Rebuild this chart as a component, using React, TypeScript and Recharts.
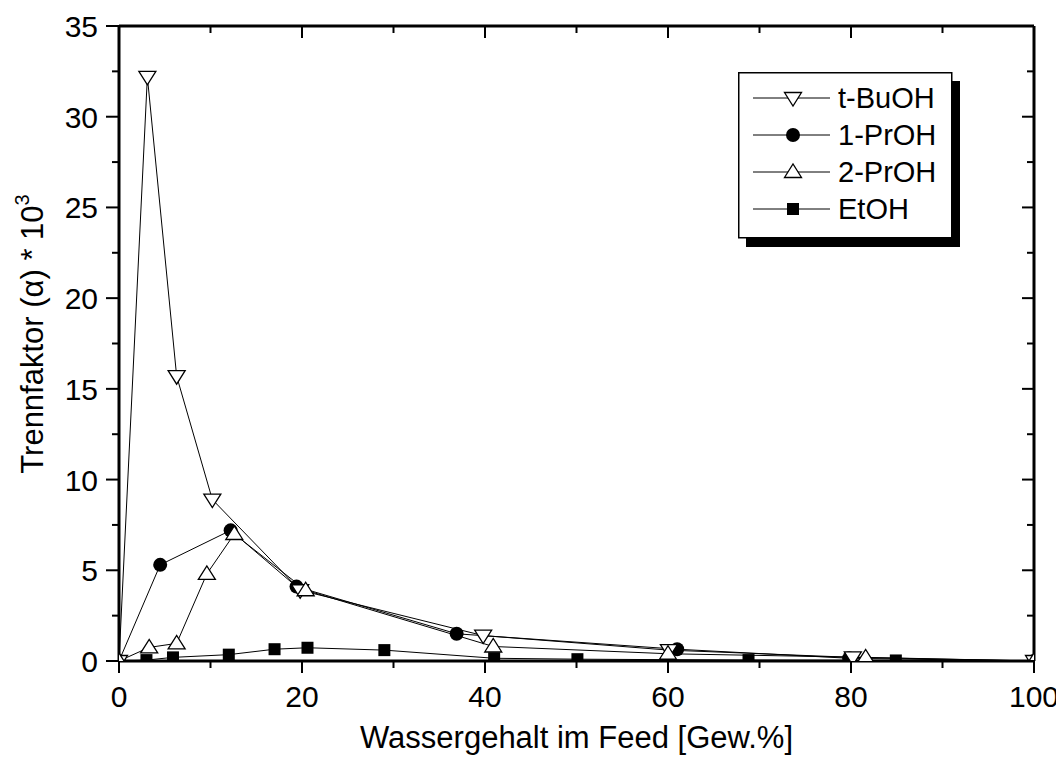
import React from 'react'
import { LineChart, Line, XAxis, YAxis } from 'recharts'

// Wassergehalt [Gew.%] und Trennfaktor * 10^3 je Alkohol
const tBuX = [0, 3.1, 6.3, 10.2, 19.8, 39.8, 60.1, 80.2, 100]
const tBuY = [0, 32.2, 15.7, 8.9, 3.9, 1.4, 0.6, 0.2, 0]
const prop1X = [0, 4.5, 12.2, 19.4, 36.9, 61, 79.8, 100]
const prop1Y = [0, 5.3, 7.2, 4.1, 1.5, 0.65, 0.15, 0]
const prop2X = [0, 3.3, 6.3, 9.6, 12.6, 20.4, 40.9, 60, 81.6, 100]
const prop2Y = [0, 0.75, 0.97, 4.8, 7.0, 3.9, 0.8, 0.4, 0.2, 0]
const etX = [0, 3.0, 5.9, 12, 17, 20.6, 29, 41, 50.1, 68.8, 84.9, 100]
const etY = [0, 0.05, 0.2, 0.35, 0.65, 0.73, 0.6, 0.15, 0.1, 0.05, 0.03, 0]

const xTicks = [0, 10, 20, 30, 40, 50, 60, 70, 80, 90, 100]
const yTicks = [0, 2.5, 5, 7.5, 10, 12.5, 15, 17.5, 20, 22.5, 25, 27.5, 30, 32.5, 35]

const seriesNames = ['t-BuOH', '1-PrOH', '2-PrOH', 'EtOH']

const toPoints = (xs: number[], ys: number[]) => xs.map((x, i) => ({ x, y: ys[i] }))

const FONT = '"Liberation Sans", Arial, sans-serif'
const W = 1056
const H = 750
// plot area: left 111, top 18, right 1026, bottom 653
const PLOT = { left: 111, top: 18, right: 1026, bottom: 653 }
const BOTTOM_H = 60
const LEFT_W = 80
const M = {
  top: PLOT.top - 1,
  right: W - PLOT.right - 1,
  bottom: H - PLOT.bottom - BOTTOM_H,
  left: PLOT.left - LEFT_W,
}

type MarkerKind = 'down' | 'circle' | 'up' | 'square'

const Marker = ({ kind, cx, cy }: { kind: MarkerKind; cx: number; cy: number }) => {
  if (kind === 'circle') return <circle cx={cx} cy={cy} r={7} fill="#000" />
  if (kind === 'square') return <rect x={cx - 6} y={cy - 6} width={12} height={12} fill="#000" />
  if (kind === 'down')
    return (
      <polygon
        points={`${cx - 8.5},${cy - 5.5} ${cx + 8.5},${cy - 5.5} ${cx},${cy + 8}`}
        fill="#fff"
        stroke="#000"
        strokeWidth={1.3}
      />
    )
  return (
    <polygon
      points={`${cx - 8.5},${cy + 5.5} ${cx + 8.5},${cy + 5.5} ${cx},${cy - 8}`}
      fill="#fff"
      stroke="#000"
      strokeWidth={1.3}
    />
  )
}

const dotFor = (kind: MarkerKind) => (props: any) => (
  <Marker key={`${kind}-${props.index}`} kind={kind} cx={props.cx} cy={props.cy} />
)

const BottomTick = ({ x = 0, y = 0, payload }: any) => {
  const v = payload?.value
  const major = v % 20 === 0
  return (
    <g>
      <line x1={x} x2={x} y1={y} y2={y + (major ? 12 : 7)} stroke="#000" strokeWidth={2} />
      {major && (
        <text x={x} y={y + 46} textAnchor="middle" fontSize={30} fontFamily={FONT} fill="#000">
          {v}
        </text>
      )}
    </g>
  )
}

const TopTick = ({ x = 0, y = 0, payload }: any) => {
  const major = payload?.value % 20 === 0
  return <line x1={x} x2={x} y1={y} y2={y + (major ? 12 : 7)} stroke="#000" strokeWidth={2} />
}

const LeftTick = ({ x = 0, y = 0, payload }: any) => {
  const v = payload?.value
  const major = v % 5 === 0
  return (
    <g>
      <line x1={x - (major ? 13 : 7)} x2={x} y1={y} y2={y} stroke="#000" strokeWidth={2} />
      {major && (
        <text x={x - 21} y={y + 11} textAnchor="end" fontSize={30} fontFamily={FONT} fill="#000">
          {v}
        </text>
      )}
    </g>
  )
}

const RightTick = ({ x = 0, y = 0, payload }: any) => {
  const major = payload?.value % 5 === 0
  return <line x1={x - (major ? 12 : 7)} x2={x} y1={y} y2={y} stroke="#000" strokeWidth={2} />
}

const XTitle = () => (
  <text
    x={(PLOT.left + PLOT.right) / 2}
    y={740}
    textAnchor="middle"
    fontSize={31}
    fontFamily={FONT}
    fill="#000"
  >
    Wassergehalt im Feed [Gew.%]
  </text>
)

const YTitle = () => {
  const cx = 35
  const cy = 326
  return (
    <text
      x={cx}
      y={cy}
      transform={`rotate(-90, ${cx}, ${cy})`}
      textAnchor="middle"
      fontSize={31}
      fontFamily={FONT}
      fill="#000"
    >
      Trennfaktor (α) * 10
      <tspan fontSize={20} dy={-14}>3</tspan>
    </text>
  )
}

const legendKinds: MarkerKind[] = ['down', 'circle', 'up', 'square']

const LegendBox = () => (
  <svg width={232} height={184} style={{ position: 'absolute', left: 730, top: 64 }}>
    <rect x={8} y={9} width={214} height={166} fill="#000" />
    <rect x={0.75} y={0.75} width={213} height={165} fill="#fff" stroke="#000" strokeWidth={1.5} />
    {seriesNames.map((name, i) => {
      const cy = 26 + i * 37
      return (
        <g key={name}>
          <line x1={15} x2={92} y1={cy} y2={cy} stroke="#000" strokeWidth={1} />
          <Marker kind={legendKinds[i]} cx={55} cy={cy} />
          <text x={100} y={cy + 10} fontSize={29} fontFamily={FONT} fill="#000">
            {name}
          </text>
        </g>
      )
    })}
  </svg>
)

export default function App() {
  const axisLine = { stroke: '#000', strokeWidth: 3 }
  return (
    <div style={{ position: 'relative', width: W, height: H, fontFamily: FONT }}>
      <LineChart width={W} height={H} margin={M}>
        <XAxis
          dataKey="x"
          type="number"
          domain={[0, 100]}
          ticks={xTicks}
          interval={0}
          height={BOTTOM_H}
          tickSize={0}
          tickMargin={0}
          tickLine={false}
          axisLine={axisLine}
          tick={<BottomTick />}
          allowDataOverflow
          label={<XTitle />}
        />
        <XAxis
          xAxisId="top"
          orientation="top"
          dataKey="x"
          type="number"
          domain={[0, 100]}
          ticks={xTicks}
          interval={0}
          height={1}
          tickSize={0}
          tickMargin={0}
          tickLine={false}
          axisLine={axisLine}
          tick={<TopTick />}
          allowDataOverflow
        />
        <YAxis
          type="number"
          domain={[0, 35]}
          ticks={yTicks}
          interval={0}
          width={LEFT_W}
          tickSize={0}
          tickMargin={0}
          tickLine={false}
          axisLine={axisLine}
          tick={<LeftTick />}
          allowDataOverflow
          label={<YTitle />}
        />
        <YAxis
          yAxisId="right"
          orientation="right"
          type="number"
          domain={[0, 35]}
          ticks={yTicks}
          interval={0}
          width={1}
          tickSize={0}
          tickMargin={0}
          tickLine={false}
          axisLine={axisLine}
          tick={<RightTick />}
          allowDataOverflow
        />
        <Line
          data={toPoints(etX, etY)}
          dataKey="y"
          name="EtOH"
          type="linear"
          stroke="#000"
          strokeWidth={1}
          dot={dotFor('square')}
          isAnimationActive={false}
        />
        <Line
          data={toPoints(prop1X, prop1Y)}
          dataKey="y"
          name="1-PrOH"
          type="linear"
          stroke="#000"
          strokeWidth={1}
          dot={dotFor('circle')}
          isAnimationActive={false}
        />
        <Line
          data={toPoints(tBuX, tBuY)}
          dataKey="y"
          name="t-BuOH"
          type="linear"
          stroke="#000"
          strokeWidth={1}
          dot={dotFor('down')}
          isAnimationActive={false}
        />
        <Line
          data={toPoints(prop2X, prop2Y)}
          dataKey="y"
          name="2-PrOH"
          type="linear"
          stroke="#000"
          strokeWidth={1}
          dot={dotFor('up')}
          isAnimationActive={false}
        />
      </LineChart>
      <LegendBox />
    </div>
  )
}
